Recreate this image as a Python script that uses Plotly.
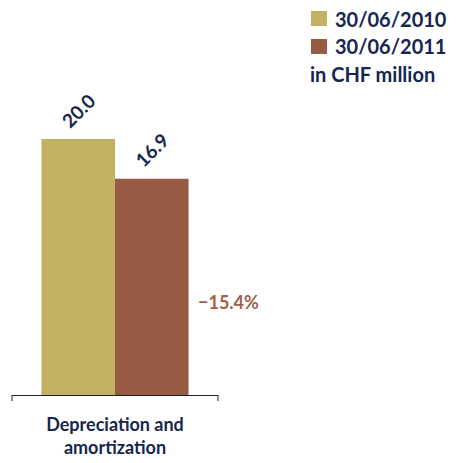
import plotly.graph_objects as go

categories = ["Depreciation and<br>amortization"]
series_names = ["30/06/2010", "30/06/2011"]
values_2010 = [20.0]
values_2011 = [16.9]
change_labels = ["\u221215.4%"]
unit_label = "in CHF million"

gold = "#C2B063"
brown = "#975A42"
navy = "#17264F"
FONT = "Lato"

W, H = 456, 463
ML, MR, MT, MB = 12, 238, 75, 68
PW = W - ML - MR
PH = H - MT - MB

def px(x):
    return (x - ML) / PW

def py(y):
    return (H - MB - y) / PH

fig = go.Figure()
fig.add_trace(go.Bar(x=categories, y=values_2010, name=series_names[0],
                     marker=dict(color=gold, line=dict(width=0))))
fig.add_trace(go.Bar(x=categories, y=values_2011, name=series_names[1],
                     marker=dict(color=brown, line=dict(width=0))))

annotations = []
# rotated value labels
for vals, shift in ((values_2010, -37), (values_2011, 37)):
    for c, v in zip(categories, vals):
        annotations.append(dict(x=c, y=v, xref="x", yref="y", text=f"{v:.1f}",
                                textangle=-45, showarrow=False, xshift=shift, yshift=29,
                                xanchor="center", yanchor="middle",
                                font=dict(family=FONT, size=19, color=navy, weight=700)))
# change label
annotations.append(dict(x=px(196), y=py(302), xref="paper", yref="paper", text=change_labels[0],
                        showarrow=False, xanchor="left", yanchor="middle",
                        font=dict(family=FONT, size=18, color="#A0604A", weight=700)))
# legend texts
for name, yc in zip(series_names, (19, 46)):
    annotations.append(dict(x=px(333), y=py(yc), xref="paper", yref="paper", text=name,
                            showarrow=False, xanchor="left", yanchor="middle",
                            font=dict(family=FONT, size=20, color=navy, weight=700)))
annotations.append(dict(x=px(308), y=py(74), xref="paper", yref="paper", text=unit_label,
                        showarrow=False, xanchor="left", yanchor="middle",
                        font=dict(family=FONT, size=20, color=navy, weight=700)))

shapes = [
    dict(type="rect", xref="paper", yref="paper", x0=px(311), x1=px(327), y0=py(26), y1=py(11),
         fillcolor=gold, line=dict(width=0)),
    dict(type="rect", xref="paper", yref="paper", x0=px(311), x1=px(327), y0=py(54), y1=py(39),
         fillcolor=brown, line=dict(width=0)),
    dict(type="line", xref="paper", yref="paper", x0=0, x1=0, y0=0, y1=py(401),
         line=dict(color="#222222", width=1)),
    dict(type="line", xref="paper", yref="paper", x0=1, x1=1, y0=0, y1=py(401),
         line=dict(color="#222222", width=1)),
]

fig.update_layout(
    width=W, height=H,
    margin=dict(l=ML, r=MR, t=MT, b=MB, pad=0, autoexpand=False),
    paper_bgcolor="white", plot_bgcolor="white",
    barmode="group", bargap=0.286, bargroupgap=0,
    showlegend=False,
    annotations=annotations,
    shapes=shapes,
    xaxis=dict(showline=True, linecolor="#222222", linewidth=1, ticks="",
               showgrid=False, zeroline=False, ticklabelstandoff=13, automargin=False,
               tickfont=dict(family=FONT, size=18, color=navy, weight=700)),
    yaxis=dict(range=[0, 25], visible=False, showgrid=False, zeroline=False, automargin=False),
)

fig.write_html("out.html")
